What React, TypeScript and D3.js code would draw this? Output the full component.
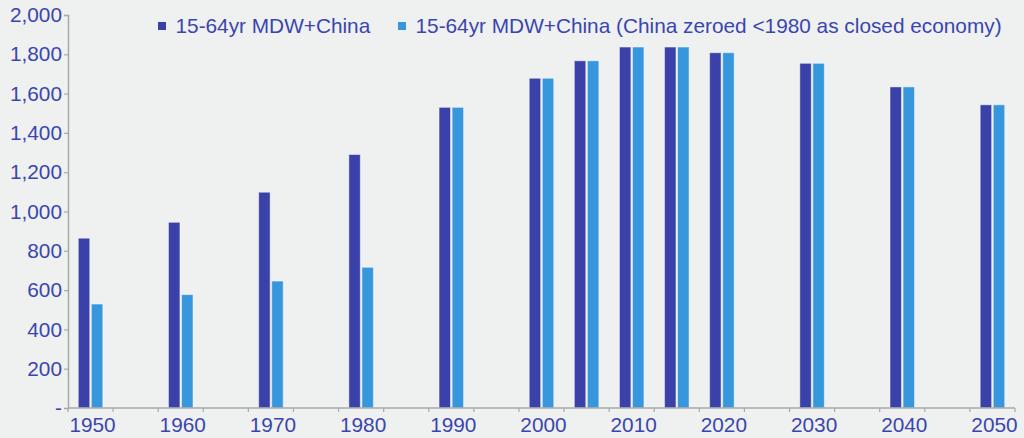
import * as d3 from "d3";
import React, { useRef, useEffect } from "react";

// category axis: every 5 years, labels every 10
const categories = [
	"1950", "1955", "1960", "1965", "1970", "1975", "1980", "1985", "1990", "1995",
	"2000", "2005", "2010", "2015", "2020", "2025", "2030", "2035", "2040", "2045", "2050",
];
const tickLabels = ["1950", "1960", "1970", "1980", "1990", "2000", "2010", "2020", "2030", "2040", "2050"];
const yTicks = [0, 200, 400, 600, 800, 1000, 1200, 1400, 1600, 1800, 2000];

const barYears = ["1950", "1960", "1970", "1980", "1990", "2000", "2005", "2010", "2015", "2020", "2030", "2040", "2050"];
const mdwChina = [864, 945, 1098, 1290, 1530, 1678, 1767, 1837, 1837, 1808, 1754, 1634, 1543];
const chinaZeroed = [529, 577, 646, 716, 1530, 1678, 1767, 1837, 1837, 1808, 1754, 1634, 1543];

const seriesNames = [
	"15-64yr MDW+China",
	"15-64yr MDW+China (China zeroed <1980 as closed economy)",
];
const seriesKeys = ["mdw", "zeroed"];
const colors = ["#3a42a9", "#3797dc"];

const W = 1024;
const H = 438;
const margin = { top: 15, right: 9, bottom: 30, left: 68 };
const textColor = "#3a46ad";
const axisColor = "#a9a9a9";
const font = "'Liberation Sans', Arial, sans-serif";
const fontSize = 20.8;

const App = () => {
	const d3Container = useRef(null);

	useEffect(() => {
		if (!d3Container.current) return;
		const svg = d3.select(d3Container.current);
		svg.selectAll("*").remove();
		renderChart(svg);
	}, []);

	const renderChart = (svg: any) => {
		const x0 = margin.left;
		const x1 = W - margin.right;
		const yBottom = H - margin.bottom;

		svg.append("rect").attr("width", W).attr("height", H).attr("fill", "#eff0f0");

		const xScale = d3.scaleBand().domain(categories).range([x0, x1]).padding(0);
		const inner = d3.scaleBand().domain(seriesKeys).range([-12.25, 12.25]).paddingInner(0.125);
		const yScale = d3.scaleLinear().domain([0, 2000]).range([yBottom, margin.top]);

		// y axis
		const yAxis = svg
			.append("g")
			.attr("transform", `translate(${x0},0)`)
			.call(
				d3
					.axisLeft(yScale)
					.tickValues(yTicks)
					.tickSize(4)
					.tickPadding(2)
					.tickFormat((v: any) => (v === 0 ? "-" : d3.format(",")(v)))
			);
		yAxis.select(".domain").attr("stroke", axisColor).attr("stroke-width", 1.5);
		yAxis.selectAll(".tick line").attr("stroke", axisColor).attr("stroke-width", 1.2);
		yAxis
			.selectAll(".tick text")
			.attr("fill", textColor)
			.attr("font-family", font)
			.attr("font-size", fontSize);

		// bars
		const rows = barYears.map((yr, i) => ({ yr, values: [mdwChina[i], chinaZeroed[i]] }));
		const groups = svg
			.selectAll(".bar-group")
			.data(rows)
			.enter()
			.append("g")
			.attr("class", "bar-group")
			.attr("transform", (d: any) => `translate(${(xScale(d.yr) as number) + xScale.bandwidth() / 2},0)`);
		groups
			.selectAll("rect")
			.data((d: any) => d.values.map((v: number, k: number) => ({ v, k })))
			.enter()
			.append("rect")
			.attr("x", (d: any) => inner(seriesKeys[d.k]))
			.attr("y", (d: any) => yScale(d.v))
			.attr("width", inner.bandwidth())
			.attr("height", (d: any) => yBottom - yScale(d.v))
			.attr("fill", (d: any) => colors[d.k])
			.attr("stroke", "rgba(255,255,255,0.45)")
			.attr("stroke-width", 1);

		// x axis: ticks at category boundaries, labels every 10 years
		const xAxis = svg.append("g");
		xAxis
			.append("line")
			.attr("x1", x0)
			.attr("x2", x1)
			.attr("y1", yBottom)
			.attr("y2", yBottom)
			.attr("stroke", axisColor)
			.attr("stroke-width", 1.5);
		const bounds = categories.map((c) => xScale(c) as number).concat([x1]);
		xAxis
			.selectAll(".xtick")
			.data(bounds)
			.enter()
			.append("line")
			.attr("x1", (d: number) => d)
			.attr("x2", (d: number) => d)
			.attr("y1", yBottom)
			.attr("y2", yBottom + 4)
			.attr("stroke", axisColor)
			.attr("stroke-width", 1.2);
		xAxis
			.selectAll(".xlabel")
			.data(tickLabels)
			.enter()
			.append("text")
			.attr("x", (d: string) => (xScale(d) as number) + xScale.bandwidth() / 2 + 2)
			.attr("y", H - 6)
			.attr("text-anchor", "middle")
			.attr("fill", textColor)
			.attr("font-family", font)
			.attr("font-size", fontSize)
			.text((d: string) => d);

		// legend
		const legendX = [158, 398];
		const legend = svg
			.selectAll(".legend")
			.data(seriesNames)
			.enter()
			.append("g")
			.attr("transform", (_: any, i: number) => `translate(${legendX[i]},22)`);
		legend.append("rect").attr("width", 8).attr("height", 8).attr("fill", (_: any, i: number) => colors[i]);
		legend
			.append("text")
			.attr("x", 17.5)
			.attr("y", 10.5)
			.attr("fill", textColor)
			.attr("font-family", font)
			.attr("font-size", fontSize)
			.text((d: string) => d);
	};

	return (
		<svg
			ref={d3Container}
			width={W}
			height={H}
			style={{ position: "absolute", left: 0, top: 0, display: "block" }}
		/>
	);
};

export default App;
